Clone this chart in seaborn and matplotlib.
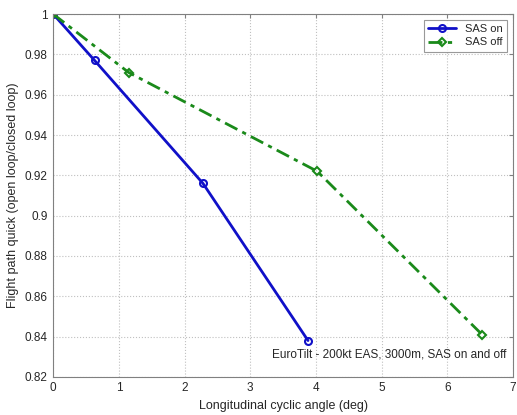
import pandas as pd
import seaborn as sns
import matplotlib.pyplot as plt

# values
sas_on_x = [0.0, 0.63, 2.28, 3.88]
sas_on_y = [1.0, 0.977, 0.916, 0.838]
sas_off_x = [0.0, 1.15, 4.02, 6.53]
sas_off_y = [1.0, 0.971, 0.922, 0.841]

df = pd.concat([
    pd.DataFrame({"x": sas_on_x, "y": sas_on_y, "case": "SAS on"}),
    pd.DataFrame({"x": sas_off_x, "y": sas_off_y, "case": "SAS off"}),
])

sns.set_style("white")
plt.rcParams["font.family"] = ["Liberation Sans", "DejaVu Sans"]

fig = plt.figure(figsize=(5.17, 4.15), dpi=100)
ax = fig.add_axes([0.103, 0.092, 0.889, 0.874])

sns.lineplot(data=df[df.case == "SAS on"], x="x", y="y", ax=ax, color="#1010c8",
             linewidth=2, marker="o", markersize=5, markerfacecolor="none",
             markeredgecolor="#1010c8", markeredgewidth=1.5, label="SAS on",
             sort=False)
sns.lineplot(data=df[df.case == "SAS off"], x="x", y="y", ax=ax, color="#1a8a1a",
             linewidth=2, linestyle=(0, (5, 2, 1.5, 2)), marker="D", markersize=4,
             markerfacecolor="none", markeredgecolor="#1a8a1a",
             markeredgewidth=1.5, label="SAS off", sort=False)

ax.set_xlim(0, 7)
ax.set_ylim(0.82, 1.0)
ax.set_xticks(range(0, 8))
ax.set_yticks([0.82, 0.84, 0.86, 0.88, 0.9, 0.92, 0.94, 0.96, 0.98, 1.0])
ax.set_yticklabels(["0.82", "0.84", "0.86", "0.88", "0.9", "0.92", "0.94", "0.96", "0.98", "1"])
ax.grid(True, linestyle=":", color="#c0c0c0", linewidth=0.8)
for s in ax.spines.values():
    s.set_color("#808080")
    s.set_linewidth(0.8)
ax.tick_params(labelsize=8.5, direction="in", length=3, width=0.8,
               color="#808080", pad=4, top=True, right=True)

ax.set_xlabel("Longitudinal cyclic angle (deg)", fontsize=9)
ax.set_ylabel("Flight path quick (open loop/closed loop)", fontsize=9)
ax.text(0.985, 0.045, "EuroTilt - 200kt EAS, 3000m, SAS on and off",
        transform=ax.transAxes, ha="right", va="bottom", fontsize=8.5)

leg = ax.legend(loc="upper right", fontsize=8, frameon=True, fancybox=False,
                edgecolor="#808080", handlelength=2.5, borderpad=0.4,
                labelspacing=0.3)
leg.get_frame().set_linewidth(0.8)

fig.savefig("out.png", dpi=100)
